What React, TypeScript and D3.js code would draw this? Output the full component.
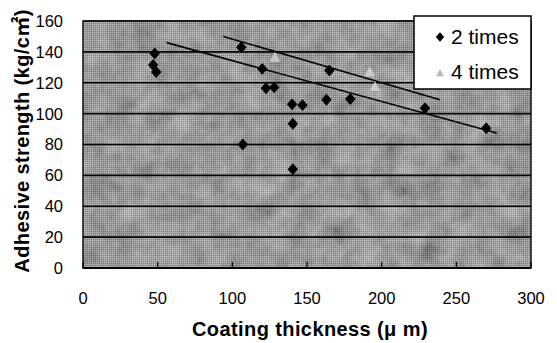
import React from "react";
import * as d3 from "d3";

// 2 times coating: [thickness µm, strength kg/cm²]
const twoTimesX = [48, 47, 49, 106, 120, 122.5, 128, 107, 165, 140, 147, 163, 179, 140.5, 140.5, 229, 270];
const twoTimesY = [139, 131.5, 127, 143, 129, 116.5, 117, 80, 128, 106, 105.5, 109, 109.5, 93.5, 64, 103.5, 90.5];

// 4 times coating
const fourTimesX = [128.5, 192, 195.5];
const fourTimesY = [136.5, 127, 117.5];

// trend lines: [x0, x1], [y0, y1]
const trendAX = [56, 277];
const trendAY = [146, 87.5];
const trendBX = [94, 239];
const trendBY = [150, 109];

const xTicks = [0, 50, 100, 150, 200, 250, 300];
const yTicks = [0, 20, 40, 60, 80, 100, 120, 140, 160];

const W = 557;
const H = 343;
const plot = { left: 83, right: 531, top: 21, bottom: 268 };

const diamond = (s: number) => `M0,${-s * 1.15}L${s},0L0,${s * 1.15}L${-s},0Z`;
const triangle = (s: number) => `M0,${-s}L${s},${s * 0.8}L${-s},${s * 0.8}Z`;

export default function App() {
  const x = d3.scaleLinear().domain([0, 300]).range([plot.left, plot.right]);
  const y = d3.scaleLinear().domain([0, 160]).range([plot.bottom, plot.top]);
  const line = d3
    .line<[number, number]>()
    .x((d) => x(d[0]))
    .y((d) => y(d[1]));

  const font = "'Liberation Sans', Arial, sans-serif";
  const pw = plot.right - plot.left;
  const ph = plot.bottom - plot.top;

  return (
    <svg
      width={W}
      height={H}
      style={{ position: "absolute", left: 0, top: 0, background: "#fff" }}
      fontFamily={font}
    >
      <defs>
        <filter id="noise" x="0" y="0" width="100%" height="100%">
          <feTurbulence type="fractalNoise" baseFrequency="0.045" numOctaves="4" seed="11" />
          <feColorMatrix
            type="matrix"
            values="0.5 0.5 0 0 -0.05  0.5 0.5 0 0 -0.05  0.5 0.5 0 0 -0.05  0 0 0 0 1"
          />
        </filter>
        <pattern id="dither" width="2" height="2" patternUnits="userSpaceOnUse">
          <rect width="1" height="1" fill="#fff" />
          <rect x="1" y="1" width="1" height="1" fill="#000" />
        </pattern>
      </defs>

      {/* plot background */}
      <rect x={plot.left} y={plot.top} width={pw} height={ph} fill="#7e7e7e" />
      <rect x={plot.left} y={plot.top} width={pw} height={ph} filter="url(#noise)" opacity={0.6} />
      <rect x={plot.left} y={plot.top} width={pw} height={ph} fill="url(#dither)" opacity={0.22} />

      {/* gridlines */}
      {yTicks.map((t) => (
        <line key={t} x1={plot.left} x2={plot.right} y1={y(t)} y2={y(t)} stroke="#000" strokeWidth={1.6} />
      ))}
      <rect x={plot.left} y={plot.top} width={pw} height={ph} fill="none" stroke="#111" strokeWidth={1.5} />
      <line x1={plot.left} x2={plot.right} y1={plot.bottom} y2={plot.bottom} stroke="#000" strokeWidth={2} />
      {xTicks.map((t) => (
        <line key={t} x1={x(t)} x2={x(t)} y1={plot.bottom} y2={plot.bottom - 6} stroke="#000" strokeWidth={1.2} />
      ))}

      {/* trend lines */}
      <path d={line(d3.zip(trendAX, trendAY) as [number, number][]) || ""} stroke="#000" strokeWidth={1.6} fill="none" />
      <path d={line(d3.zip(trendBX, trendBY) as [number, number][]) || ""} stroke="#000" strokeWidth={1.6} fill="none" />

      {/* 4 times */}
      {fourTimesX.map((v, i) => (
        <path
          key={"f" + i}
          d={triangle(5.5)}
          transform={`translate(${x(v)},${y(fourTimesY[i])})`}
          fill="#d2d2d2"
          opacity={0.85}
        />
      ))}

      {/* 2 times */}
      {twoTimesX.map((v, i) => (
        <path key={"t" + i} d={diamond(5.2)} transform={`translate(${x(v)},${y(twoTimesY[i])})`} fill="#000" />
      ))}

      {/* y tick labels */}
      {yTicks.map((t) => (
        <text key={t} x={63} y={y(t)} dy="0.36em" textAnchor="end" fontSize={16.5} fill="#000">
          {t}
        </text>
      ))}
      {/* x tick labels */}
      {xTicks.map((t) => (
        <text key={t} x={x(t)} y={304} textAnchor="middle" fontSize={16.5} fill="#000">
          {t}
        </text>
      ))}

      {/* axis titles */}
      <text x={310} y={336} textAnchor="middle" fontSize={20} fontWeight="bold" fill="#000" letterSpacing={0.4}>
        Coating thickness (μ m)
      </text>
      <text
        transform="translate(29,141) rotate(-90)"
        textAnchor="middle"
        fontSize={20}
        fontWeight="bold"
        fill="#000"
        letterSpacing={0.4}
        fontFamily="'Liberation Sans', 'Noto Sans CJK KR', sans-serif"
      >
        Adhesive strength (kg/c㎡)
      </text>

      {/* legend */}
      <rect x={414} y={16} width={117} height={73} fill="#fff" stroke="#000" strokeWidth={1.5} />
      <path d={diamond(4.2)} transform="translate(440,37)" fill="#000" />
      <text x={451} y={44} fontSize={21} fill="#000">
        2 times
      </text>
      <path d={triangle(4)} transform="translate(440,73)" fill="#bbb" />
      <text x={451} y={79} fontSize={21} fill="#000">
        4 times
      </text>
    </svg>
  );
}
